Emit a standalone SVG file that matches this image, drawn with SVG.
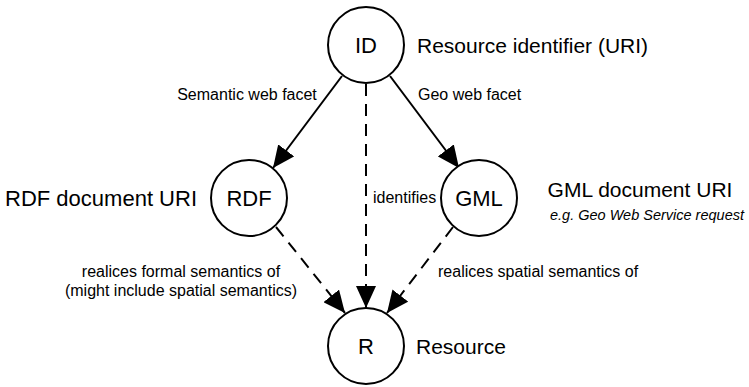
<svg xmlns="http://www.w3.org/2000/svg" width="749" height="387" viewBox="0 0 749 387">
<style>
.node{fill:#fff;stroke:#000;stroke-width:2}
.nt{font-family:"Liberation Sans",Arial,sans-serif;font-size:22px;text-anchor:middle;fill:#000}
.big{font-family:"Liberation Sans",Arial,sans-serif;font-size:21px;fill:#000}
.sm{font-family:"Liberation Sans",Arial,sans-serif;font-size:16px;fill:#000}
.e{stroke:#000;stroke-width:2;fill:none;marker-end:url(#ah)}
.d{stroke-dasharray:12 8}
</style>
<defs>
<marker id="ah" markerUnits="userSpaceOnUse" markerWidth="24" markerHeight="20" refX="22" refY="10" orient="auto">
<path d="M0,0 L22,10 L0,20 Z" fill="#000"/>
</marker>
</defs>
<g id="connectors">
<line class="e" x1="342" y1="76" x2="273" y2="168"/>
<line class="e" x1="390" y1="76" x2="459" y2="168"/>
<line class="e d" x1="366" y1="84" x2="366" y2="308"/>
<line class="e d" x1="276" y1="227" x2="345" y2="313"/>
<line class="e d" x1="453" y1="227" x2="387" y2="313"/>
<text class="sm" x="247" y="100" text-anchor="middle">Semantic web facet</text>
<text class="sm" x="418" y="100">Geo web facet</text>
<text class="sm" x="373" y="203">identifies</text>
<text class="sm" x="181" y="277" text-anchor="middle">realices formal semantics of</text>
<text class="sm" x="181" y="296" text-anchor="middle">(might include spatial semantics)</text>
<text class="sm" x="438" y="277">realices spatial semantics of</text>
</g>
<g id="ID">
<circle class="node" cx="366" cy="45" r="38"/>
<text class="nt" x="366" y="53">ID</text>
<text class="big" x="417" y="53">Resource identifier (URI)</text>
</g>
<g id="RDF">
<circle class="node" cx="249" cy="198" r="38"/>
<text class="nt" x="249" y="206">RDF</text>
<text class="big" x="197" y="206" text-anchor="end" style="font-size:22px">RDF document URI</text>
</g>
<g id="GML">
<circle class="node" cx="479" cy="198" r="38"/>
<text class="nt" x="479" y="206">GML</text>
<text class="big" x="640" y="197" text-anchor="middle">GML document URI</text>
<text class="sm" x="744" y="220" text-anchor="end" style="font-style:italic;font-size:14.5px">e.g. Geo Web Service request</text>
</g>
<g id="R">
<circle class="node" cx="366" cy="346" r="38"/>
<text class="nt" x="366" y="354">R</text>
<text class="big" x="416" y="354">Resource</text>
</g>
</svg>
